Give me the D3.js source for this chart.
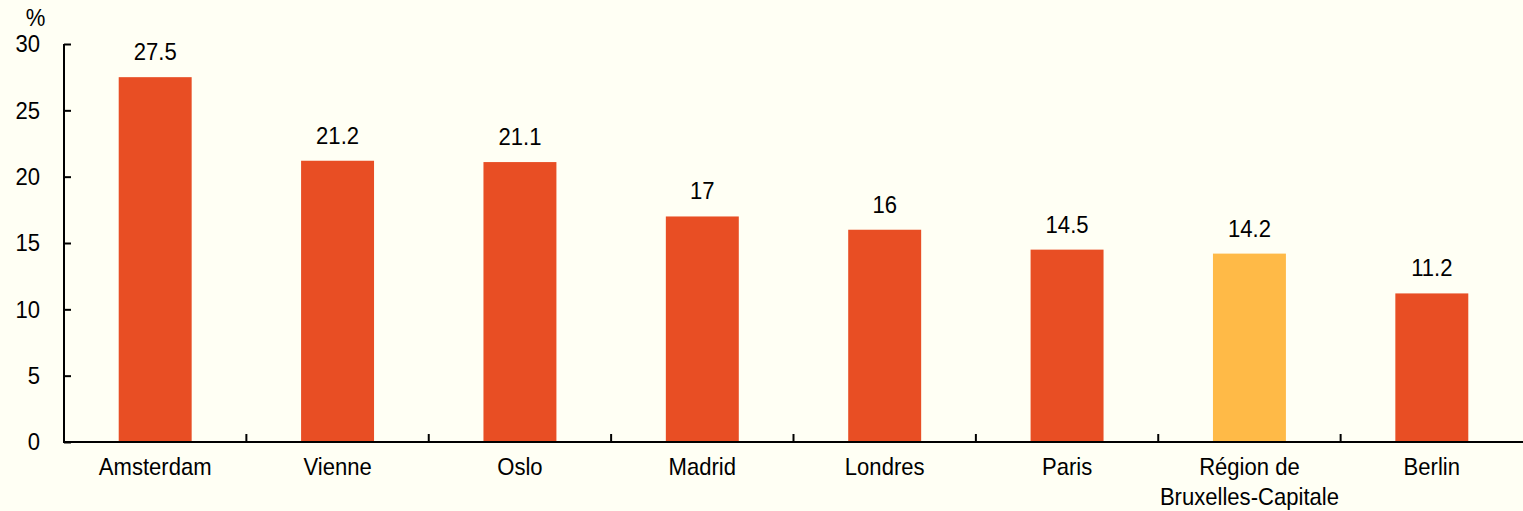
<!DOCTYPE html>
<html>
<head>
<meta charset="utf-8">
<script src="https://cdn.jsdelivr.net/npm/d3@7"></script>
<style>
  html, body { margin: 0; padding: 0; background: #fffff4; }
  svg { display: block; font-family: "Liberation Sans", Arial, sans-serif; }
</style>
</head>
<body>
<div id="chart"></div>
<script>
var cities = ["Amsterdam", "Vienne", "Oslo", "Madrid", "Londres", "Paris", "Région de\nBruxelles-Capitale", "Berlin"];
var values = [27.5, 21.2, 21.1, 17, 16, 14.5, 14.2, 11.2];
var highlight = ["Région de\nBruxelles-Capitale"];
var yTicks = [0, 5, 10, 15, 20, 25, 30];

var W = 1523, H = 511;
var margin = {top: 44, right: 0, bottom: 69, left: 64},
    width = W - margin.left - margin.right,
    height = H - margin.top - margin.bottom;

var fs = 24, sx = 0.92;   // narrow-looking font in the original
function place(x, y) { return "translate(" + x + "," + y + ") scale(" + sx + ",1)"; }

var svg = d3.select("#chart").append("svg")
    .attr("width", W)
    .attr("height", H);

svg.append("rect").attr("width", W).attr("height", H).attr("fill", "#fffff4");

var g = svg.append("g")
    .attr("transform", "translate(" + margin.left + "," + margin.top + ")");

var x = d3.scaleBand()
    .domain(cities)
    .range([0, width])
    .paddingInner(0.6)
    .paddingOuter(0.3);

var y = d3.scaleLinear()
    .domain([0, 30])
    .range([height, 0]);

// bars
g.selectAll(".bar")
  .data(cities)
  .enter().append("rect")
    .attr("class", "bar")
    .attr("x", function(d) { return x(d); })
    .attr("y", function(d, i) { return y(values[i]); })
    .attr("width", x.bandwidth())
    .attr("height", function(d, i) { return y(0) - y(values[i]); })
    .attr("fill", function(d) { return highlight.indexOf(d) >= 0 ? "#ffba47" : "#e84e24"; });

// value labels
g.selectAll(".val")
  .data(cities)
  .enter().append("text")
    .attr("transform", function(d, i) { return place(x(d) + x.bandwidth() / 2, y(values[i]) - 17); })
    .attr("text-anchor", "middle")
    .attr("font-size", fs)
    .attr("fill", "#000")
    .text(function(d, i) { return values[i]; });

// y axis
var yAxis = g.append("g")
    .call(d3.axisRight(y).tickValues(yTicks).tickSize(7).tickFormat(""));
yAxis.select(".domain").attr("d", "M0," + y(30) + "V" + y(0)).attr("stroke", "#000").attr("stroke-width", 2);
yAxis.selectAll(".tick line").attr("stroke", "#000").attr("stroke-width", 2);

g.selectAll(".ylab")
  .data(yTicks)
  .enter().append("text")
    .attr("transform", function(d) { return place(-24, y(d)); })
    .attr("dy", "0.35em")
    .attr("text-anchor", "end")
    .attr("font-size", fs)
    .text(function(d) { return d; });

g.append("text")
    .attr("transform", place(-28.5, -18))
    .attr("text-anchor", "middle")
    .attr("font-size", fs)
    .text("%");

// x axis
var boundaries = cities.slice(1).map(function(d) { return x(d) - x.step() * x.paddingInner() / 2; });
var xAxis = g.append("g").attr("transform", "translate(0," + height + ")");
xAxis.append("line")
    .attr("x1", -1).attr("x2", width)
    .attr("stroke", "#000").attr("stroke-width", 2);
xAxis.selectAll(".xtick")
  .data(boundaries)
  .enter().append("line")
    .attr("x1", function(d) { return d; })
    .attr("x2", function(d) { return d; })
    .attr("y1", 0).attr("y2", -8)
    .attr("stroke", "#000").attr("stroke-width", 2);

xAxis.selectAll(".xlab")
  .data(cities)
  .enter().append("text")
    .attr("transform", function(d) { return place(x(d) + x.bandwidth() / 2, 33); })
    .attr("text-anchor", "middle")
    .attr("font-size", fs)
    .each(function(d) {
      var lines = d.split("\n");
      var t = d3.select(this);
      lines.forEach(function(l, i) {
        t.append("tspan")
          .attr("x", 0)
          .attr("dy", i === 0 ? 0 : 30)
          .text(l);
      });
    });
</script>
</body>
</html>
